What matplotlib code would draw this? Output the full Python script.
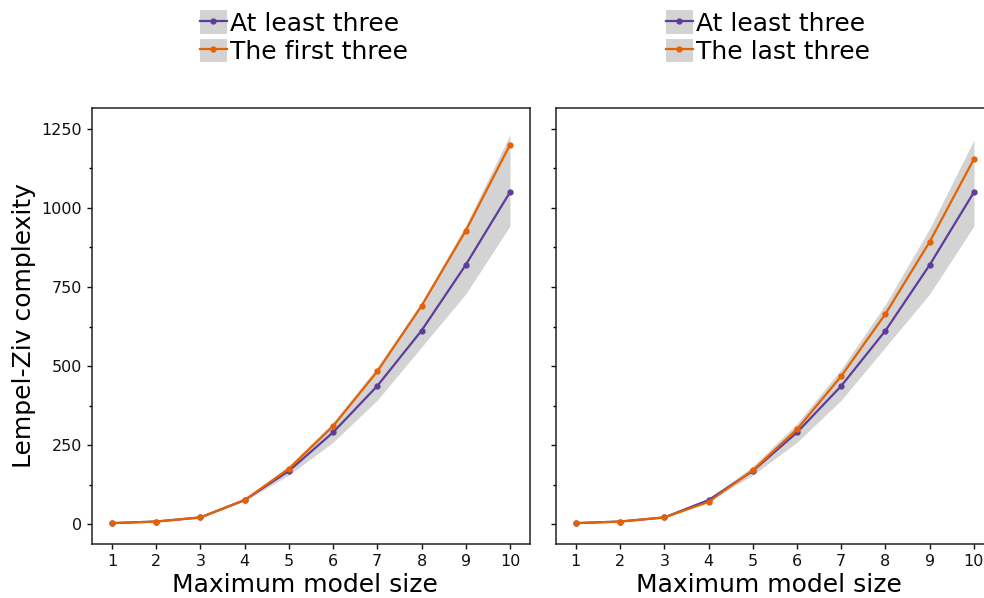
import numpy as np
import matplotlib
matplotlib.use("Agg")
import matplotlib.pyplot as plt
from matplotlib.patches import Patch
from matplotlib.lines import Line2D
from matplotlib.ticker import MultipleLocator

# model sizes on the x axis
sizes = [1, 2, 3, 4, 5, 6, 7, 8, 9, 10]

# "at least three" mean and spread
at_least = [3, 8, 21, 76, 168, 290, 437, 612, 820, 1050]
band_low = [3, 8, 21, 73, 155, 259, 392, 560, 728, 943]
band_high_left = [3, 8, 21, 79, 185, 322, 497, 702, 946, 1231]
band_high_right = [3, 8, 21, 79, 183, 318, 490, 695, 935, 1215]

# restricted variants
first_three = [3, 8, 21, 76, 175, 310, 483, 690, 928, 1200]
last_three = [3, 8, 21, 70, 170, 300, 468, 665, 893, 1155]

labels_left = ["At least three", "The first three"]
labels_right = ["At least three", "The last three"]

PURPLE = "#5e3c99"
ORANGE = "#e66101"
BAND = "#d3d3d3"

fig = plt.figure(figsize=(9.84, 5.98), dpi=100)
ax1 = fig.add_axes([0.0935, 0.0903, 0.445, 0.729])
ax2 = fig.add_axes([0.565, 0.0903, 0.445, 0.729], sharey=ax1)


def draw_panel(ax, band_high, other, labels):
    ax.fill_between(sizes, band_low, band_high, color=BAND, lw=0)
    ax.plot(sizes, at_least, color=PURPLE, marker="o", ms=3.5, lw=1.6)
    ax.plot(sizes, other, color=ORANGE, marker="o", ms=3.5, lw=1.6)
    ax.set_xticks(sizes)
    ax.set_xlim(0.55, 10.45)
    ax.yaxis.set_major_locator(MultipleLocator(250))
    ax.yaxis.set_minor_locator(MultipleLocator(125))
    ax.tick_params(labelsize=11.5, colors="#111111", width=1)
    ax.tick_params(which="minor", width=1)
    for sp in ax.spines.values():
        sp.set_color("#222222")
        sp.set_linewidth(1.1)
    ax.set_xlabel("Maximum model size", fontsize=18)
    ax.xaxis.set_label_coords(0.486, -0.066)

    handles = [
        (Patch(color=BAND, lw=0), Line2D([], [], color=PURPLE, marker="o", ms=3.5, lw=1.6)),
        (Patch(color=BAND, lw=0), Line2D([], [], color=ORANGE, marker="o", ms=3.5, lw=1.6)),
    ]
    ax.legend(handles, labels, loc="lower center", bbox_to_anchor=(0.484, 1.073),
              frameon=False, fontsize=18, handlelength=1.1, handleheight=1.05,
              handletextpad=0.12, labelspacing=0.12, borderpad=0)


draw_panel(ax1, band_high_left, first_three, labels_left)
draw_panel(ax2, band_high_right, last_three, labels_right)

ax1.set_ylim(-63, 1316)
ax1.set_ylabel("Lempel-Ziv complexity", fontsize=18)
plt.setp(ax2.get_yticklabels(), visible=False)

fig.savefig("out.png", dpi=100)
